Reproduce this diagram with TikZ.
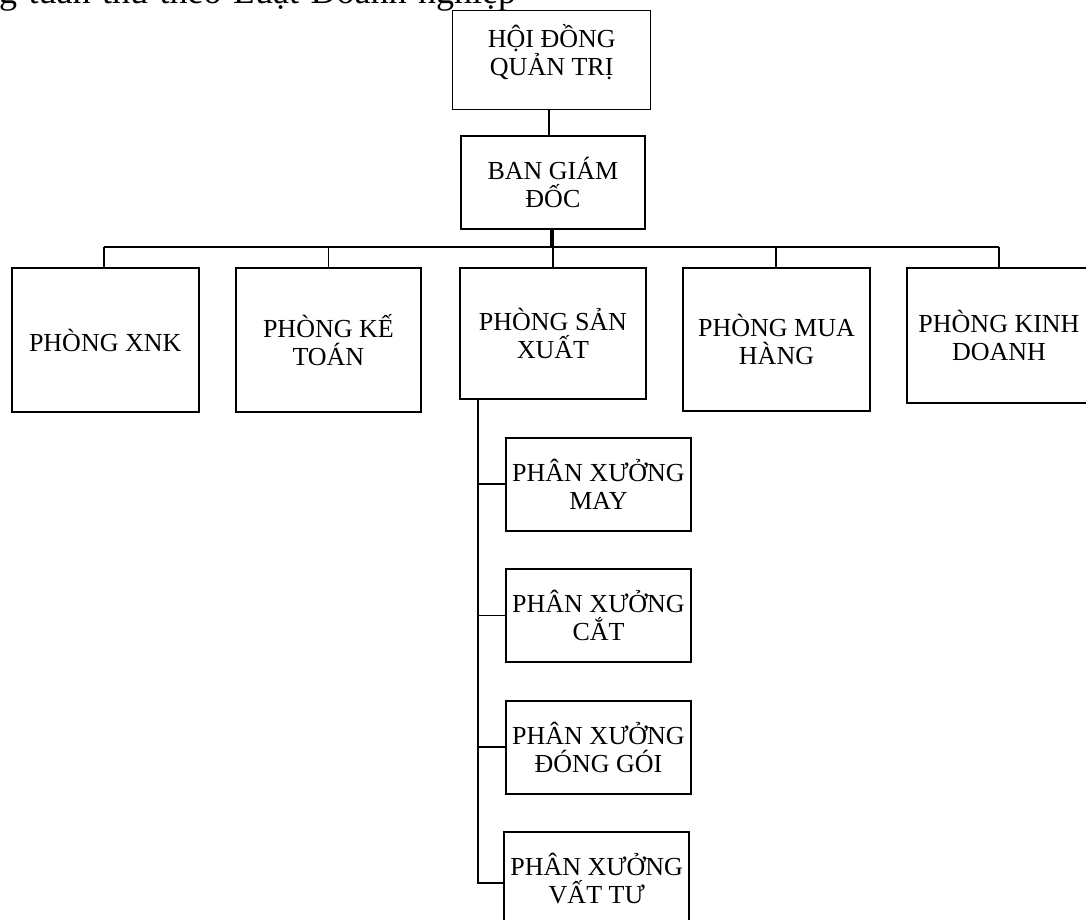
\documentclass[tikz,border=0pt]{standalone}
\usepackage{fontspec}
\setmainfont{Liberation Serif}
\begin{document}
\begin{tikzpicture}[x=1pt,y=-1pt,
  orgbox/.style={draw=black, line width=2pt, rectangle, inner sep=0pt, align=center,
    font=\fontsize{26}{28}\selectfont, fill=white},
  thinbox/.style={orgbox, line width=1pt},
  conn/.style={draw=black, line width=1.8pt},
  thinconn/.style={draw=black, line width=1.1pt},
  busline/.style={draw=black, line width=2pt},
  thickconn/.style={draw=black, line width=3.2pt}]
\clip (0,0) rectangle (1086,920);
\fill[white] (0,0) rectangle (1086,920);

% cut-off heading line
\node[anchor=base west, inner sep=0pt, font=\fontsize{36}{40}\selectfont] (head) at (-1,4)
  {\makebox[517pt][s]{g tuân thủ theo Luật Doanh nghiệp}};

% boxes
\node[thinbox, minimum width=198pt, minimum height=99pt] (hdqt) at (551.7,60.5)
  {HỘI ĐỒNG\\QUẢN TRỊ\\[-6pt]\mbox{}};
\node[orgbox, minimum width=184.3pt, minimum height=93.3pt] (bgd) at (552.9,182.4)
  {BAN GIÁM\\ĐỐC};

\node[orgbox, minimum width=187pt, minimum height=144pt] (xnk) at (105.2,340) {PHÒNG XNK};
\node[orgbox, minimum width=184.7pt, minimum height=144pt] (kt) at (328.4,340) {PHÒNG KẾ\\TOÁN};
\node[orgbox, minimum width=185.4pt, minimum height=131pt] (sx) at (553,333.5) {PHÒNG SẢN\\XUẤT};
\node[orgbox, minimum width=187pt, minimum height=142.7pt] (mh) at (776.5,339.4) {PHÒNG MUA\\HÀNG};
\node[orgbox, minimum width=184pt, minimum height=134.7pt] (kd) at (999,335.4) {PHÒNG KINH\\DOANH};

\node[orgbox, minimum width=185pt, minimum height=93pt] (may) at (598.5,484.2) {PHÂN XƯỞNG\\MAY};
\node[orgbox, minimum width=185pt, minimum height=92.4pt] (cat) at (598.5,615.5) {PHÂN XƯỞNG\\CẮT};
\node[orgbox, minimum width=185pt, minimum height=93.3pt] (dg) at (598.5,747.3) {PHÂN XƯỞNG\\ĐÓNG GÓI};
\node[orgbox, minimum width=185.3pt, minimum height=93pt] (vt) at (596.7,878.8) {PHÂN XƯỞNG\\VẤT TƯ};

% connectors
\draw[thinconn] ([xshift=-2.7pt]hdqt.south) -- ([xshift=-2.7pt]hdqt.south |- bgd.north);
\coordinate (bus) at (552,247);
\draw[thickconn] (bgd.south -| bus) -- (bus);
\coordinate (busL) at (104,247);
\coordinate (busR) at (999,247);
\draw[busline] (busL) -- (busR);
\draw[conn] ([xshift=-1.2pt]xnk.north |- bus) -- ([xshift=-1.2pt]xnk.north);
\draw[conn] (kt.north |- bus) -- (kt.north);
\draw[thinconn] (sx.north |- bus) -- (sx.north);
\draw[conn] ([xshift=-0.8pt]mh.north |- bus) -- ([xshift=-0.8pt]mh.north);
\draw[conn] (kd.north |- bus) -- (kd.north);

\coordinate (trunk) at ([xshift=18.4pt]sx.south west);
\draw[conn] (trunk) |- (may.west);
\draw[conn] (trunk) |- (cat.west);
\draw[conn] (trunk) |- (dg.west);
\draw[conn] (trunk) |- ([yshift=-3.8pt]vt.west);
\end{tikzpicture}
\end{document}
